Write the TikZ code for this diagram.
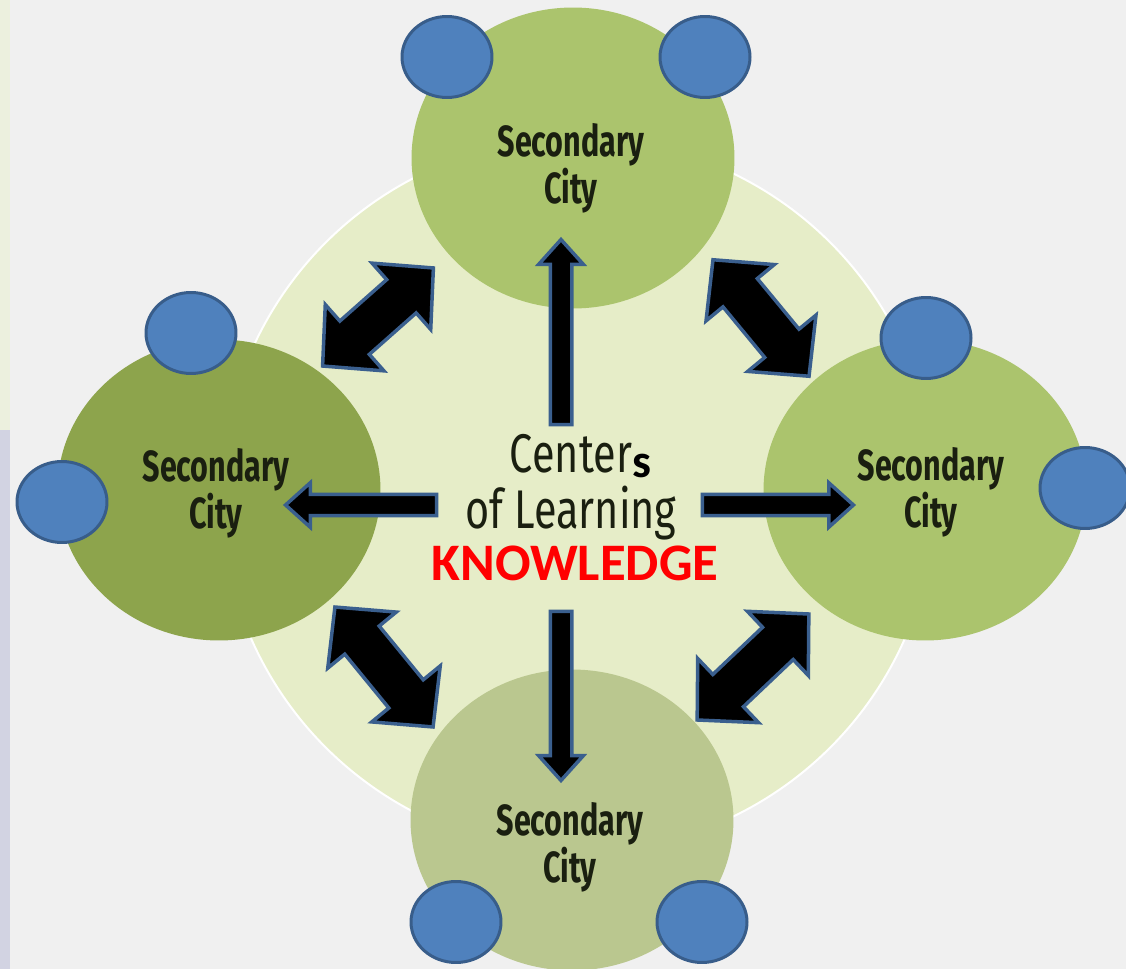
\documentclass[tikz,border=0pt]{standalone}
\usepackage{fontspec}
\newfontfamily\cityfont[FakeStretch=0.7]{Fira Sans}
\newfontfamily\hubfont[FakeStretch=0.76]{Fira Sans}
\newfontfamily\calfont{Carlito}
\usetikzlibrary{shapes.geometric,shapes.arrows,positioning}
\definecolor{pagegray}{HTML}{F0F0F0}
\definecolor{stripgreen}{HTML}{ECF0DE}
\definecolor{striplilac}{HTML}{D2D3E2}
\definecolor{hubfill}{HTML}{E6EDC8}
\definecolor{cityfresh}{HTML}{ABC46D}
\definecolor{cityforest}{HTML}{8DA44C}
\definecolor{citysage}{HTML}{BAC78F}
\definecolor{seatblue}{HTML}{4F81BD}
\definecolor{seatedge}{HTML}{385D8A}
\definecolor{arrowedge}{HTML}{3A5F8E}
\definecolor{inkdark}{HTML}{1A1F10}
\definecolor{knowred}{HTML}{FF0000}

\begin{document}
\begin{tikzpicture}[x=0.02cm, y=-0.02cm,
        city/.style={ellipse,minimum width=6.46cm,minimum height=6.02cm,inner sep=0pt},
        seat/.style={ellipse,draw=seatedge,fill=seatblue,line width=0.06cm,minimum width=1.8cm,minimum height=1.62cm,inner sep=0pt},
        cityname/.style={font=\cityfont\bfseries\fontsize{24.8}{24.5}\selectfont,align=center,text=inkdark,inner sep=0pt},
        hubname/.style={font=\hubfont\fontsize{31}{31}\selectfont,text=inkdark,inner sep=0pt},
        push/.style={single arrow,draw=arrowedge,fill=black,line width=0.07cm,inner xsep=0pt,inner ysep=0.18cm,single arrow head extend=0.23cm,single arrow tip angle=84},
        link/.style={double arrow,draw=arrowedge,fill=black,line width=0.07cm,inner xsep=0pt,inner ysep=0.41cm,double arrow head extend=0.44cm,double arrow tip angle=92}
    ]
    \useasboundingbox (0,0) rectangle (1126,969);
    \fill[pagegray] (0,0) rectangle (1126,969);

    % strip at the left edge
    \fill[stripgreen] (0,0) rectangle (10,430);
    \fill[striplilac] (0,430) rectangle (10,969);

    % big circle behind everything
    \node[circle,fill=hubfill,draw=white,line width=0.04cm,minimum size=14.28cm] (hub) at (578,495) {};

    % the four cities
    \node[city,fill=cityfresh] (north) at (573,158) {};
    \node[city,fill=cityforest] (west) at (219,490) {};
    \node[city,fill=cityfresh] (east) at (925,490) {};
    \node[city,fill=citysage] (south) at (572,820) {};

    % blue circles on the rims
    \node[seat] (north1) at (447,57) {};
    \node[seat] (north2) at (705,57) {};
    \node[seat] (west1) at (191,333) {};
    \node[seat] (west2) at (62,502) {};
    \node[seat] (east1) at (926,338) {};
    \node[seat] (east2) at (1085,488) {};
    \node[seat] (south1) at (456,922) {};
    \node[seat] (south2) at (702,922) {};

    % city names
    \node[cityname] (northname) at (571,168) {Secondary\\City};
    \node[cityname] (westname) at (216,493) {Secondary\\City};
    \node[cityname] (eastname) at (931,492) {Secondary\\City};
    \node[cityname] (southname) at (570,847) {Secondary\\City};

    % arrows out of the middle
    \node[push,minimum height=3.70cm,rotate=90] (up) at (561,338) {};
    \node[push,minimum height=3.38cm,rotate=-90] (down) at (561,690) {};
    \node[push,minimum height=3.02cm,rotate=180] (left) at (367,505) {};
    \node[push,minimum height=3.02cm] (right) at (772,505) {};

    % arrows between neighbours
    \node[link,minimum height=2.96cm,rotate=41.5] (nw) at (378,317) {};
    \node[link,minimum height=3.02cm,rotate=-50.5] (ne) at (761,318) {};
    \node[link,minimum height=3.10cm,rotate=-50.7] (sw) at (384,667) {};
    \node[link,minimum height=3.08cm,rotate=43.5] (se) at (753,667) {};

    % text in the middle
    \node[hubname,anchor=base] (centre) at (571,473) {Center};
    \node[font=\calfont\bfseries\fontsize{27}{27}\selectfont,anchor=base west,inner sep=0pt] (plural) at ([yshift=-0.1cm]centre.base east) {s};
    \node[hubname,anchor=base] (learning) at (571,528) {of Learning};
    \node[font=\calfont\bfseries\fontsize{30}{30}\selectfont,text=knowred,anchor=base,inner sep=0pt] (knowledge) at (575,580) {KNOWLEDGE};
\end{tikzpicture}
\end{document}
